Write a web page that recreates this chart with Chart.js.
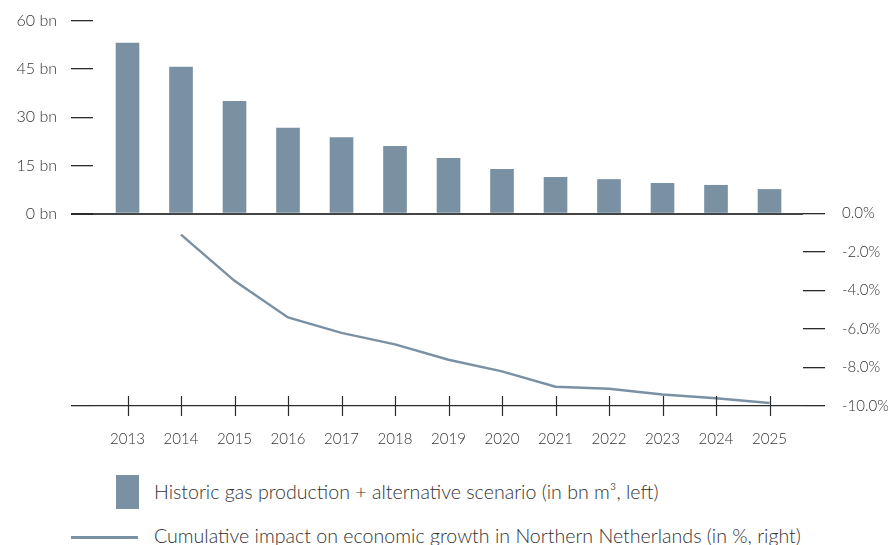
<!DOCTYPE html>
<html>
<head>
<meta charset="utf-8">
<script src="https://cdn.jsdelivr.net/npm/chart.js@4"></script>
<style>
    body { margin: 0; background: #fff; font-family: Lato, sans-serif; color: #333; }
    #wrap { position: relative; width: 888px; height: 545px; }
    .legenda { position: absolute; left: 0; font-size: 19.6px; font-weight: 300; color: #333; white-space: nowrap; }
    .legenda .marca { position: absolute; background: #7a91a4; }
    .legenda span { position: absolute; left: 154px; }
</style>
</head>
<body>
<div id="wrap">
    <canvas id="grafico" width="888" height="460"></canvas>
    <div class="legenda" style="top:475px;">
        <div class="marca" style="left:116px;top:0;width:23px;height:34px;"></div>
        <span style="top:5px;">Historic gas production + alternative scenario (in bn m³, left)</span>
    </div>
    <div class="legenda" style="top:524px;">
        <div class="marca" style="left:71px;top:12px;width:67px;height:3px;"></div>
        <span style="top:0;">Cumulative impact on economic growth in Northern Netherlands (in %, right)</span>
    </div>
</div>
<script>
const anos = [2013, 2014, 2015, 2016, 2017, 2018, 2019, 2020, 2021, 2022, 2023, 2024, 2025];
const producaoGas = [53.1, 45.6, 35.0, 26.6, 23.7, 20.9, 17.2, 13.8, 11.3, 10.6, 9.4, 8.8, 7.5];
const impactoCrescimento = [null, -1.1, -3.5, -5.4, -6.2, -6.8, -7.6, -8.2, -9.0, -9.1, -9.4, -9.6, -9.85];
const ticksEsquerda = [0, 15, 30, 45, 60];
const ticksDireita = [0, -2, -4, -6, -8, -10];

const corSerie = '#7a91a4';
const corEixo = '#2b2b2b';
const fonteEixo = { family: 'Lato', size: 15, weight: '300' };

// pequenas marcas cruzando o eixo x (acima e abaixo da linha)
const marcasX = {
    id: 'marcasX',
    afterDatasetsDraw(chart) {
        const x = chart.scales.x;
        const base = chart.chartArea.bottom;
        const c = chart.ctx;
        c.save();
        c.strokeStyle = corEixo;
        c.lineWidth = 1.2;
        anos.forEach(a => {
            const px = Math.round(x.getPixelForValue(a)) + 0.5;
            c.beginPath();
            c.moveTo(px, base - 10);
            c.lineTo(px, base + 10);
            c.stroke();
        });
        c.restore();
    }
};

const semPadding = s => { s.paddingTop = 0; s.paddingBottom = 0; };

new Chart(document.getElementById('grafico'), {
    data: {
        datasets: [
            {
                type: 'bar',
                label: 'Historic gas production + alternative scenario (in bn m³, left)',
                data: anos.map((a, i) => ({ x: a, y: producaoGas[i] })),
                backgroundColor: corSerie,
                barThickness: 23,
                yAxisID: 'y',
                order: 2
            },
            {
                type: 'line',
                label: 'Cumulative impact on economic growth in Northern Netherlands (in %, right)',
                data: anos.map((a, i) => ({ x: a, y: impactoCrescimento[i] })),
                borderColor: corSerie,
                borderWidth: 2.5,
                pointRadius: 0,
                tension: 0,
                spanGaps: false,
                yAxisID: 'y2',
                order: 1
            }
        ]
    },
    options: {
        responsive: false,
        animation: false,
        layout: { padding: { top: 21, left: 0, right: 0, bottom: 0 } },
        plugins: { legend: { display: false }, tooltip: { enabled: false } },
        scales: {
            x: {
                type: 'linear',
                offset: false,
                min: 2012.355,
                max: 2025.626,
                afterBuildTicks: s => { s.ticks = anos.map(v => ({ value: v })); },
                afterFit: s => { s.height = 54; s.paddingLeft = 0; s.paddingRight = 0; },
                grid: { display: false },
                border: { display: false },
                ticks: {
                    autoSkip: false,
                    maxRotation: 0,
                    padding: 16,
                    color: '#333',
                    font: fonteEixo,
                    callback: v => String(v)
                }
            },
            y: {
                position: 'left',
                min: -60,
                max: 60,
                z: 1,
                afterBuildTicks: s => { s.ticks = [-60, ...ticksEsquerda].map(v => ({ value: v })); },
                afterFit: s => { s.width = 93; semPadding(s); },
                border: { display: false },
                grid: {
                    drawTicks: true,
                    tickLength: 22,
                    lineWidth: ctx => ctx.tick && ctx.tick.value === 0 ? 2 : 1.3,
                    color: ctx => ctx.tick && ctx.tick.value === 0 ? '#444' : 'rgba(0,0,0,0)',
                    tickColor: corEixo
                },
                ticks: {
                    padding: 14,
                    color: '#333',
                    font: { family: 'Lato', size: 16, weight: '300' },
                    callback: v => v < 0 ? '' : v + ' bn'
                }
            },
            y2: {
                position: 'right',
                min: -10,
                max: 10,
                afterBuildTicks: s => { s.ticks = ticksDireita.map(v => ({ value: v })); },
                afterFit: s => { s.width = 85; semPadding(s); },
                border: { display: false },
                grid: {
                    drawTicks: true,
                    tickLength: 22,
                    lineWidth: 1.3,
                    color: ctx => ctx.tick && ctx.tick.value === -10 ? corEixo : 'rgba(0,0,0,0)',
                    tickColor: corEixo
                },
                ticks: {
                    padding: 17,
                    color: '#333',
                    font: fonteEixo,
                    callback: v => v.toFixed(1) + '%'
                }
            }
        }
    },
    plugins: [marcasX]
});
</script>
</body>
</html>
